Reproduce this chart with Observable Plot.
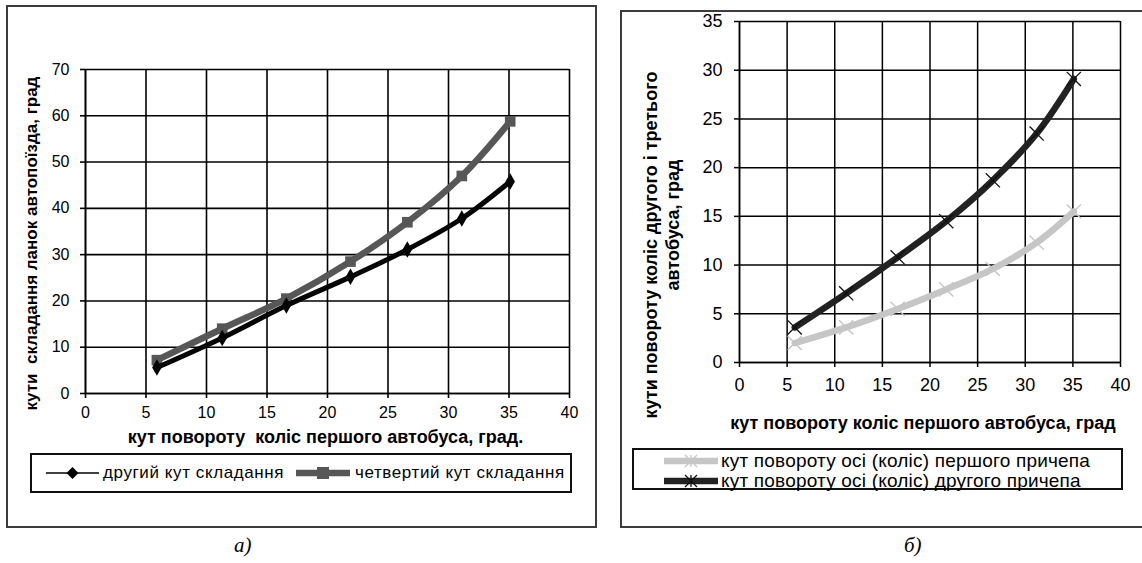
<!DOCTYPE html>
<html>
<head>
<meta charset="utf-8">
<script src="https://cdn.jsdelivr.net/npm/d3@7"></script>
<script src="https://cdn.jsdelivr.net/npm/@observablehq/plot@0.6"></script>
<style>
  html, body { margin: 0; padding: 0; background: #fff; }
  #wrap { position: relative; width: 1142px; height: 563px; overflow: hidden; background: #fff;
          font-family: "Liberation Sans", Arial, sans-serif; color: #000; }
  .box { position: absolute; border: 2px solid #3c3c3c; box-sizing: border-box; pointer-events: none; }
  .chart { position: absolute; top: 0; }
  .legend { position: absolute; border: 2px solid #111; box-sizing: border-box; background: #fff; }
  .cap { position: absolute; font-family: "Liberation Serif", "Times New Roman", serif; font-style: italic; font-size: 21px; }
  .lg-item { position: absolute; white-space: nowrap; display: flex; align-items: center; }
</style>
</head>
<body>
<div id="wrap">
  <div id="chartA" class="chart" style="left:0px;"></div>
  <div id="chartB" class="chart" style="left:620px;"></div>
  <div class="box" style="left:6px; top:5px; width:591px; height:523px;"></div>
  <div class="box" style="left:620px; top:10px; width:540px; height:518px;"></div>
  <div id="legendA" class="legend" style="left:30px; top:453px; width:542px; height:40px;"></div>
  <div id="legendB" class="legend" style="left:632px; top:448px; width:491px; height:42px;"></div>
  <div class="cap" style="left:234px; top:533px;">а)</div>
  <div class="cap" style="left:904px; top:533px;">б)</div>
</div>
<script>
// ---------- data ----------
const xA = [5.9, 11.3, 16.6, 21.9, 26.6, 31.1, 35.1];
const secondAngle = [5.6, 12.0, 19.0, 25.2, 31.1, 37.8, 45.8];
const fourthAngle = [7.2, 14.0, 20.5, 28.5, 37.0, 47.0, 58.8];

const xB = [5.8, 11.2, 16.6, 21.7, 26.6, 31.2, 35.1];
const firstTrailer = [2.0, 3.6, 5.5, 7.5, 9.6, 12.3, 15.5];
const secondTrailer = [3.6, 7.1, 10.8, 14.5, 18.7, 23.5, 29.1];

const xTicks = [0, 5, 10, 15, 20, 25, 30, 35, 40];
const yTicksA = [0, 10, 20, 30, 40, 50, 60, 70];
const yTicksB = [0, 5, 10, 15, 20, 25, 30, 35];

const seriesNamesA = ["другий  кут складання", "четвертий  кут складання"];
const seriesNamesB = ["кут повороту осі (коліс) першого причепа", "кут повороту осі (коліс) другого причепа"];
const xTitleA = "кут повороту  коліс першого автобуса, град.";
const yTitleA = "кути  складання ланок автопоїзда, град";
const xTitleB = "кут повороту коліс першого автобуса, град";
const yTitleB1 = "кути повороту коліс другого і третього";
const yTitleB2 = "автобуса, град";

// ---------- tables built from the arrays ----------
const dataA2 = xA.map((x, i) => ({x, y: secondAngle[i]}));
const dataA4 = xA.map((x, i) => ({x, y: fourthAngle[i]}));
const dataB1 = xB.map((x, i) => ({x, y: firstTrailer[i]}));
const dataB2 = xB.map((x, i) => ({x, y: secondTrailer[i]}));

const FONT = "'Liberation Sans', Arial, sans-serif";
const baseStyle = {background: "transparent", overflow: "visible", fontFamily: FONT, color: "#000", maxWidth: "none"};

// ---------- chart а) ----------
const chartA = Plot.plot({
  width: 600, height: 450,
  marginLeft: 85, marginRight: 31, marginTop: 69, marginBottom: 57,
  style: {...baseStyle, fontSize: "16px"},
  x: {domain: [0, 40], label: null},
  y: {domain: [0, 70], label: null},
  marks: [
    Plot.gridX(xTicks, {stroke: "#000", strokeOpacity: 1, strokeWidth: 1.6}),
    Plot.gridY(yTicksA, {stroke: "#000", strokeOpacity: 1, strokeWidth: 1.6}),
    Plot.axisX(xTicks, {tickSize: 5, tickPadding: 8, fontSize: 16, stroke: "#000", strokeWidth: 1.6, label: null}),
    Plot.axisY(yTicksA, {tickSize: 5, tickPadding: 11, fontSize: 16, stroke: "#000", strokeWidth: 1.6, label: null}),
    Plot.ruleX([0], {stroke: "#000", strokeWidth: 1.6}),
    Plot.ruleY([0], {stroke: "#000", strokeWidth: 1.6}),
    Plot.line(dataA4, {x: "x", y: "y", curve: "catmull-rom", stroke: "#575757", strokeWidth: 6.5}),
    Plot.dot(dataA4, {x: "x", y: "y", symbol: "square", r: 6, fill: "#575757", stroke: "none"}),
    Plot.line(dataA2, {x: "x", y: "y", curve: "catmull-rom", stroke: "#050505", strokeWidth: 5}),
    Plot.dot(dataA2, {x: "x", y: "y", symbol: "diamond", r: 5, fill: "#050505", stroke: "none"}),
    Plot.text([xTitleA], {frameAnchor: "bottom", dx: -2, dy: 44, lineAnchor: "middle", textAnchor: "middle", fontWeight: "bold", fontSize: 18, style: "letter-spacing:0.2px"}),
    Plot.text([yTitleA], {frameAnchor: "left", rotate: -90, dx: -54, dy: 12, lineAnchor: "middle", textAnchor: "middle", fontWeight: "bold", fontSize: 17})
  ]
});
document.getElementById("chartA").appendChild(chartA);

// ---------- chart б) ----------
const chartB = Plot.plot({
  width: 522, height: 450,
  marginLeft: 119, marginRight: 22, marginTop: 21, marginBottom: 88,
  style: {...baseStyle, fontSize: "18px"},
  x: {domain: [0, 40], label: null},
  y: {domain: [0, 35], label: null},
  marks: [
    Plot.gridX(xTicks, {stroke: "#000", strokeOpacity: 1, strokeWidth: 1.5}),
    Plot.gridY(yTicksB, {stroke: "#000", strokeOpacity: 1, strokeWidth: 1.5}),
    Plot.axisX(xTicks, {tickSize: 5, tickPadding: 11, fontSize: 18, stroke: "#000", strokeWidth: 1.5, label: null}),
    Plot.axisY(yTicksB, {tickSize: 5, tickPadding: 12, fontSize: 18, stroke: "#000", strokeWidth: 1.5, label: null}),
    Plot.ruleX([0], {stroke: "#000", strokeWidth: 1.5}),
    Plot.ruleY([0], {stroke: "#000", strokeWidth: 1.5}),
    Plot.line(dataB1, {x: "x", y: "y", curve: "catmull-rom", stroke: "#c6c6c6", strokeWidth: 6.5}),
    Plot.dot(dataB1, {x: "x", y: "y", symbol: "times", r: 6.5, stroke: "#c6c6c6", strokeWidth: 1.4, fill: "none"}),
    Plot.line(dataB2, {x: "x", y: "y", curve: "catmull-rom", stroke: "#222", strokeWidth: 6.5}),
    Plot.dot(dataB2, {x: "x", y: "y", symbol: "times", r: 6.5, stroke: "#111", strokeWidth: 1.3, fill: "none"}),
    Plot.text([xTitleB], {frameAnchor: "bottom", dx: -7, dy: 61, lineAnchor: "middle", textAnchor: "middle", fontWeight: "bold", fontSize: 18, style: "letter-spacing:0.15px"}),
    Plot.text([yTitleB1], {frameAnchor: "left", rotate: -90, dx: -88, dy: 53, lineAnchor: "middle", textAnchor: "middle", fontWeight: "bold", fontSize: 18}),
    Plot.text([yTitleB2], {frameAnchor: "left", rotate: -90, dx: -66, dy: 33, lineAnchor: "middle", textAnchor: "middle", fontWeight: "bold", fontSize: 18})
  ]
});
document.getElementById("chartB").appendChild(chartB);

// ---------- legends ----------
function sample(w, h, color, width, marker, mColor) {
  const ns = "http://www.w3.org/2000/svg";
  const svg = document.createElementNS(ns, "svg");
  svg.setAttribute("width", w); svg.setAttribute("height", h);
  const cy = h / 2, cx = w / 2;
  const l = document.createElementNS(ns, "line");
  l.setAttribute("x1", 0); l.setAttribute("x2", w); l.setAttribute("y1", cy); l.setAttribute("y2", cy);
  l.setAttribute("stroke", color); l.setAttribute("stroke-width", width);
  svg.appendChild(l);
  let m;
  if (marker === "diamond") {
    m = document.createElementNS(ns, "path");
    m.setAttribute("d", `M${cx},${cy-6}L${cx+6},${cy}L${cx},${cy+6}L${cx-6},${cy}Z`);
    m.setAttribute("fill", mColor);
  } else if (marker === "square") {
    m = document.createElementNS(ns, "rect");
    m.setAttribute("x", cx - 6); m.setAttribute("y", cy - 6); m.setAttribute("width", 12); m.setAttribute("height", 12);
    m.setAttribute("fill", mColor);
  } else {
    m = document.createElementNS(ns, "path");
    m.setAttribute("d", `M${cx-6},${cy-6}L${cx+6},${cy+6}M${cx+6},${cy-6}L${cx-6},${cy+6}M${cx},${cy-6}L${cx},${cy+6}`);
    m.setAttribute("stroke", mColor); m.setAttribute("stroke-width", 1.3); m.setAttribute("fill", "none");
  }
  svg.appendChild(m);
  return svg;
}
function item(parent, left, top, svg, text, fontSize, gap, ls) {
  const d = document.createElement("div");
  d.className = "lg-item";
  d.style.left = left + "px"; d.style.top = top + "px"; d.style.fontSize = fontSize + "px";
  d.appendChild(svg);
  const s = document.createElement("span");
  s.textContent = text; s.style.marginLeft = gap + "px"; s.style.letterSpacing = ls + "px";
  d.appendChild(s);
  parent.appendChild(d);
}
const lgA = document.getElementById("legendA");
item(lgA, 14, 7, sample(53, 22, "#000", 1.6, "diamond", "#000"), seriesNamesA[0], 17, 4, 0.6);
item(lgA, 264, 7, sample(54, 22, "#575757", 6.5, "square", "#575757"), seriesNamesA[1], 17, 5, 0.6);
const lgB = document.getElementById("legendB");
item(lgB, 30, 0, sample(54, 20, "#c6c6c6", 6.5, "times", "#c6c6c6"), seriesNamesB[0], 19, 3, 0.2);
item(lgB, 30, 20, sample(54, 20, "#222", 6.5, "star", "#111"), seriesNamesB[1], 19, 3, 0.2);
</script>
</body>
</html>
